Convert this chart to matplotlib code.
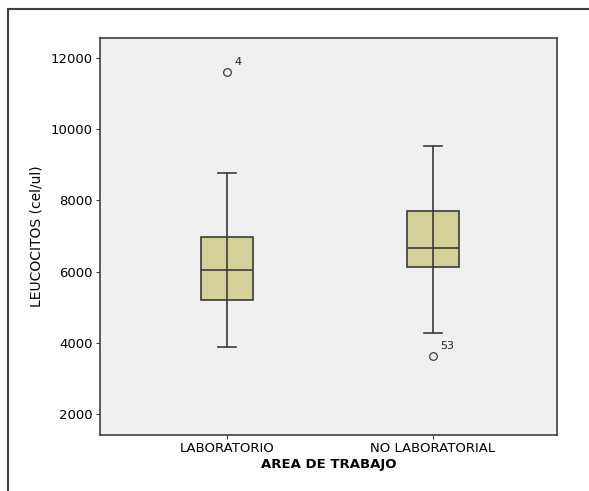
import matplotlib.pyplot as plt
from matplotlib.patches import Rectangle

# Values
groups = ["LABORATORIO", "NO LABORATORIAL"]
whisker_low = [3870, 4270]
q1 = [5200, 6120]
medians = [6050, 6655]
q3 = [6980, 7700]
whisker_high = [8760, 9540]
outlier_values = [[11600], [3630]]
outlier_ids = [["4"], ["53"]]
y_ticks = [2000, 4000, 6000, 8000, 10000, 12000]

plt.rcParams["font.family"] = ["DejaVu Sans"]

fig = plt.figure(figsize=(5.89, 4.91), dpi=100)
ax = fig.add_axes([100 / 589, 1 - 435 / 491, 457 / 589, 397 / 491])

# outer frame of the output panel
fig.patches.append(Rectangle((8 / 589, -0.1), 1.2, 1 - 9 / 491 + 0.1,
                             transform=fig.transFigure, fill=False,
                             edgecolor="#404040", linewidth=1.5))

stats = []
for i, name in enumerate(groups):
    stats.append({
        "label": name,
        "whislo": whisker_low[i],
        "q1": q1[i],
        "med": medians[i],
        "q3": q3[i],
        "whishi": whisker_high[i],
        "fliers": outlier_values[i],
    })

line_col = "#3a3a3a"
ax.bxp(stats, positions=[1, 2], widths=0.25, capwidths=0.09,
       patch_artist=True,
       boxprops=dict(facecolor="#d4d09a", edgecolor=line_col, linewidth=1.2),
       medianprops=dict(color=line_col, linewidth=1.2),
       whiskerprops=dict(color=line_col, linewidth=1.2),
       capprops=dict(color=line_col, linewidth=1.2),
       flierprops=dict(marker="o", markerfacecolor="none",
                       markeredgecolor=line_col, markersize=5.5,
                       markeredgewidth=0.9))

# SPSS draws the whisker through the box as well
for i in range(len(groups)):
    ax.plot([i + 1, i + 1], [q1[i], q3[i]], color=line_col, linewidth=1.2,
            zorder=3)

for i in range(len(groups)):
    for v, lab in zip(outlier_values[i], outlier_ids[i]):
        ax.annotate(lab, (i + 1, v), xytext=(5, 5), textcoords="offset points",
                    fontsize=8, color="#222222")

ax.set_facecolor("#f0f0f0")
ax.set_xlim(0.383, 2.602)
ax.set_ylim(1410, 12560)
ax.set_yticks(y_ticks)
ax.set_yticklabels([str(t) for t in y_ticks], fontsize=9.5)
ax.set_xticks([1, 2])
ax.set_xticklabels(groups, fontsize=9.5)
ax.tick_params(axis="both", length=3, color=line_col, pad=2)
for sp in ax.spines.values():
    sp.set_color("#404040")
    sp.set_linewidth(1.2)

ax.set_ylabel("LEUCOCITOS (cel/ul)", fontsize=10, labelpad=5)
ax.set_xlabel("AREA DE TRABAJO", fontsize=9.5, fontweight="bold", labelpad=2)

fig.savefig("out.png", dpi=100)
